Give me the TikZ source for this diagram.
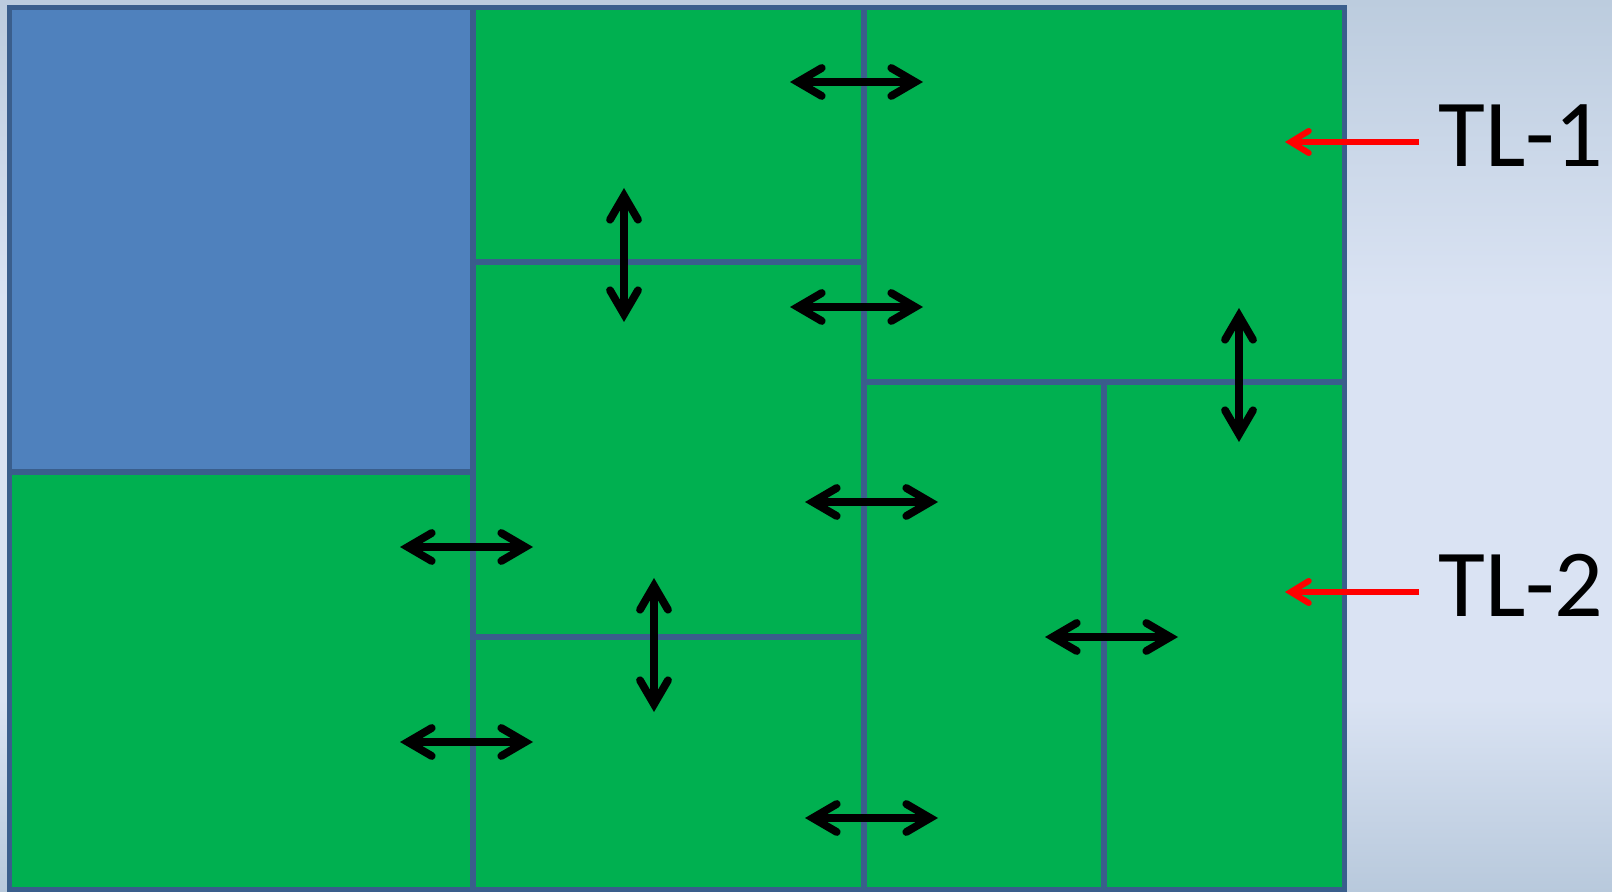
\documentclass[tikz,border=0pt]{standalone}
\usepackage{fontspec}
\setmainfont{Carlito}
\usetikzlibrary{arrows.meta}
\definecolor{bgtop}{HTML}{BCCCDE}
\definecolor{bgmid}{HTML}{DAE3F3}
\definecolor{bgbot}{HTML}{B8C9DC}
\definecolor{cellgreen}{HTML}{00B050}
\definecolor{cellblue}{HTML}{4F81BD}
\definecolor{cellline}{HTML}{3A5E8C}
\tikzset{
  cellborder/.style={draw=cellline, line width=2.6pt},
  blkbarb/.tip={Straight Barb[length=12pt,width=14pt,line cap=round,line join=miter]},
  redbarb/.tip={Straight Barb[length=9pt,width=11pt,line cap=round,line join=miter]},
  dblarrow/.style={draw=black, line width=3.9pt, blkbarb-blkbarb},
  redarrow/.style={draw=red, line width=3pt, -redbarb},
  tltext/.style={font=\fontsize{48}{55}\selectfont, inner sep=0pt, anchor=base west}
}
\begin{document}
\begin{tikzpicture}[x=0.5pt,y=-0.5pt]
  % background (drawn in upright coordinates so that top means top)
  \begin{scope}[y=0.5pt]
    \shade[top color=bgtop, bottom color=bgmid] (0,0) rectangle (1612,-300);
    \fill[bgmid] (0,-299) rectangle (1612,-700);
    \shade[top color=bgmid, bottom color=bgbot] (0,-699) rectangle (1612,-892);
  \end{scope}
  \useasboundingbox (0,0) rectangle (1612,892);
  % cells
  \fill[cellgreen] (9.5,7.5) rectangle (1344.5,890);
  \fill[cellblue] (9.5,7.5) rectangle (473,472);
  % inner lines
  \draw[cellborder] (9.5,472) -- (473,472);
  \draw[cellborder] (473,7.5) -- (473,890);
  \draw[cellborder] (473,262) -- (864,262);
  \draw[cellborder] (473,637) -- (864,637);
  \draw[cellborder] (864,7.5) -- (864,890);
  \draw[cellborder] (864,382) -- (1344.5,382);
  \draw[cellborder] (1104,382) -- (1104,890);
  \draw[cellborder] (9.5,7.5) rectangle (1344.5,890);
  % double arrows
  \coordinate (a1l) at (790,82);  \coordinate (a1r) at (923,82);
  \coordinate (a2l) at (790,307); \coordinate (a2r) at (923,307);
  \coordinate (a3l) at (805,502); \coordinate (a3r) at (938,502);
  \coordinate (a4l) at (805,818); \coordinate (a4r) at (938,818);
  \coordinate (a5l) at (400,547); \coordinate (a5r) at (533,547);
  \coordinate (a6l) at (400,742); \coordinate (a6r) at (533,742);
  \coordinate (a7l) at (1045,637); \coordinate (a7r) at (1178,637);
  \coordinate (v1t) at (624,188); \coordinate (v1b) at (624,322);
  \coordinate (v2t) at (654,578); \coordinate (v2b) at (654,712);
  \coordinate (v3t) at (1239,308); \coordinate (v3b) at (1239,442);
  \foreach \p/\q in {a1l/a1r,a2l/a2r,a3l/a3r,a4l/a4r,a5l/a5r,a6l/a6r,a7l/a7r,v1t/v1b,v2t/v2b,v3t/v3b}
    \draw[dblarrow] (\p) -- (\q);
  % labels
  \node[tltext] (tl1) at (1438,167) {TL-1};
  \node[tltext] (tl2) at (1438,617) {TL-2};
  \coordinate (r1s) at (1419,142); \coordinate (r1e) at (1285,142);
  \coordinate (r2s) at (1419,592); \coordinate (r2e) at (1285,592);
  \draw[redarrow] (r1s) -- (r1e);
  \draw[redarrow] (r2s) -- (r2e);
\end{tikzpicture}
\end{document}
